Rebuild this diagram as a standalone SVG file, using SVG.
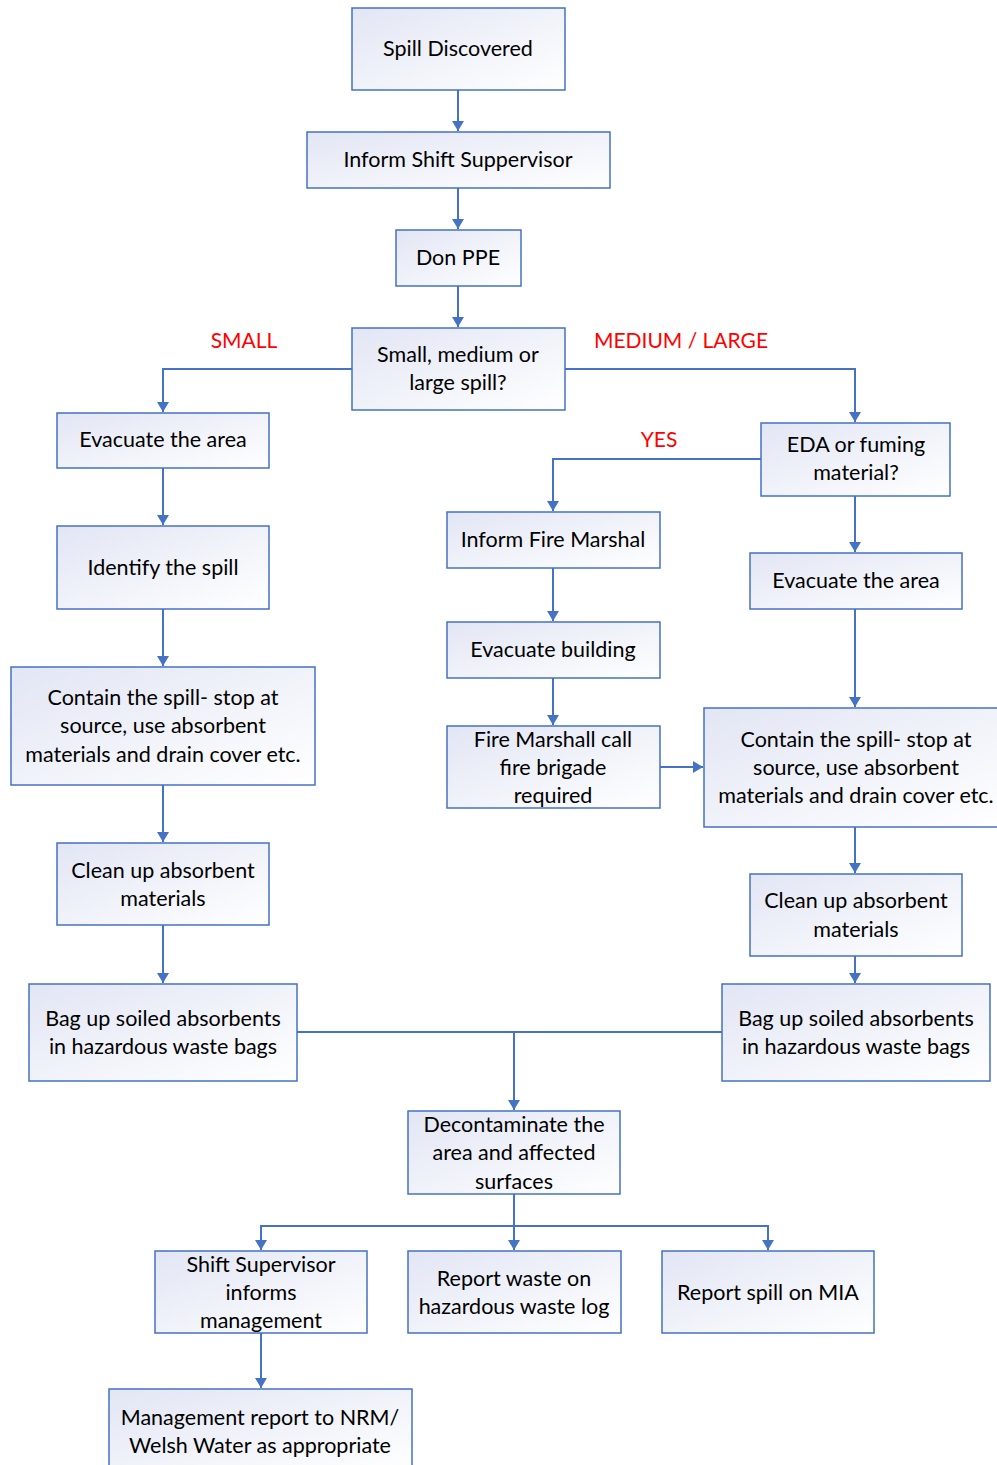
<svg xmlns="http://www.w3.org/2000/svg" width="997" height="1465" viewBox="0 0 997 1465">
<defs>
<linearGradient id="g" x1="0" y1="0" x2="1" y2="1">
<stop offset="0" stop-color="#E2E6F4"/>
<stop offset="1" stop-color="#FFFFFF"/>
</linearGradient>
<marker id="a" viewBox="0 0 10 12" refX="10" refY="6" markerWidth="10" markerHeight="12" markerUnits="userSpaceOnUse" orient="auto">
<path d="M0,0 L10,6 L0,12 z" fill="#4472C4"/>
</marker>
<style>
.b{fill:url(#g);stroke:#4472C4;stroke-width:1.5}
.t{font-family:Lato,"Open Sans","Liberation Sans",sans-serif;font-size:21.5px;fill:#000;text-anchor:middle}
.r{font-family:Lato,"Open Sans","Liberation Sans",sans-serif;font-size:21px;fill:#FF0000;text-anchor:middle}
.c{fill:none;stroke:#4472C4;stroke-width:2;marker-end:url(#a)}
.l{fill:none;stroke:#4472C4;stroke-width:2}
</style>
</defs>
<g id="connectors">
<path class="c" d="M458,90 V131"/>
<path class="c" d="M458,188 V229"/>
<path class="c" d="M458,286 V327"/>
<path class="c" d="M352,369 H163 V412"/>
<path class="c" d="M565,369 H855 V422"/>
<path class="c" d="M761,459 H553 V511"/>
<path class="c" d="M855,496 V552"/>
<path class="c" d="M553,568 V621"/>
<path class="c" d="M553,678 V725"/>
<path class="c" d="M660,767 H703"/>
<path class="c" d="M855,609 V707"/>
<path class="c" d="M855,827 V873"/>
<path class="c" d="M855,956 V983"/>
<path class="c" d="M163,468 V525"/>
<path class="c" d="M163,609 V666"/>
<path class="c" d="M163,785 V842"/>
<path class="c" d="M163,925 V983"/>
<path class="l" d="M297,1032 H722"/>
<path class="c" d="M514,1032 V1110"/>
<path class="c" d="M514,1194 V1250"/>
<path class="c" d="M514,1226 H261 V1250"/>
<path class="c" d="M514,1226 H768 V1250"/>
<path class="c" d="M261,1333 V1388"/>
</g>
<g id="labels">
<text class="r" x="244" y="348">SMALL</text>
<text class="r" x="681" y="348">MEDIUM / LARGE</text>
<text class="r" x="659" y="447">YES</text>
</g>
<g id="spill-discovered"><rect class="b" x="352" y="8" width="213" height="82"/><text class="t" x="458" y="56">Spill Discovered</text></g>
<g id="inform-supervisor"><rect class="b" x="307" y="132" width="303" height="56"/><text class="t" x="458" y="167">Inform Shift Suppervisor</text></g>
<g id="don-ppe"><rect class="b" x="396" y="230" width="125" height="56"/><text class="t" x="458" y="265">Don PPE</text></g>
<g id="spill-size"><rect class="b" x="352" y="328" width="213" height="82"/><text class="t" x="458" y="362">Small, medium or</text><text class="t" x="458" y="390">large spill?</text></g>
<g id="evacuate-left"><rect class="b" x="57" y="413" width="212" height="55"/><text class="t" x="163" y="447">Evacuate the area</text></g>
<g id="identify"><rect class="b" x="57" y="526" width="212" height="83"/><text class="t" x="163" y="575">Identify the spill</text></g>
<g id="contain-left"><rect class="b" x="11" y="667" width="304" height="118"/><text class="t" x="163" y="705">Contain the spill- stop at</text><text class="t" x="163" y="733">source, use absorbent</text><text class="t" x="163" y="762">materials and drain cover etc.</text></g>
<g id="cleanup-left"><rect class="b" x="57" y="843" width="212" height="82"/><text class="t" x="163" y="878">Clean up absorbent</text><text class="t" x="163" y="906">materials</text></g>
<g id="bag-left"><rect class="b" x="29" y="984" width="268" height="97"/><text class="t" x="163" y="1026">Bag up soiled absorbents</text><text class="t" x="163" y="1054">in hazardous waste bags</text></g>
<g id="eda"><rect class="b" x="761" y="423" width="189" height="73"/><text class="t" x="856" y="452">EDA or fuming</text><text class="t" x="856" y="480">material?</text></g>
<g id="fire-marshal"><rect class="b" x="447" y="512" width="213" height="56"/><text class="t" x="553" y="547">Inform Fire Marshal</text></g>
<g id="evacuate-building"><rect class="b" x="447" y="622" width="213" height="56"/><text class="t" x="553" y="657">Evacuate building</text></g>
<g id="fire-brigade"><rect class="b" x="447" y="726" width="213" height="82"/><text class="t" x="553" y="747">Fire Marshall call</text><text class="t" x="553" y="775">fire brigade</text><text class="t" x="553" y="803">required</text></g>
<g id="evacuate-right"><rect class="b" x="750" y="553" width="212" height="56"/><text class="t" x="856" y="588">Evacuate the area</text></g>
<g id="contain-right"><rect class="b" x="704" y="708" width="300" height="119"/><text class="t" x="856" y="747">Contain the spill- stop at</text><text class="t" x="856" y="775">source, use absorbent</text><text class="t" x="856" y="803">materials and drain cover etc.</text></g>
<g id="cleanup-right"><rect class="b" x="750" y="874" width="212" height="82"/><text class="t" x="856" y="908">Clean up absorbent</text><text class="t" x="856" y="937">materials</text></g>
<g id="bag-right"><rect class="b" x="722" y="984" width="268" height="97"/><text class="t" x="856" y="1026">Bag up soiled absorbents</text><text class="t" x="856" y="1054">in hazardous waste bags</text></g>
<g id="decontaminate"><rect class="b" x="408" y="1111" width="212" height="83"/><text class="t" x="514" y="1132">Decontaminate the</text><text class="t" x="514" y="1160">area and affected</text><text class="t" x="514" y="1189">surfaces</text></g>
<g id="supervisor-informs"><rect class="b" x="155" y="1251" width="212" height="82"/><text class="t" x="261" y="1272">Shift Supervisor</text><text class="t" x="261" y="1300">informs</text><text class="t" x="261" y="1328">management</text></g>
<g id="report-waste"><rect class="b" x="408" y="1251" width="213" height="82"/><text class="t" x="514" y="1286">Report waste on</text><text class="t" x="514" y="1314">hazardous waste log</text></g>
<g id="report-mia"><rect class="b" x="662" y="1251" width="212" height="82"/><text class="t" x="768" y="1300">Report spill on MIA</text></g>
<g id="management-report"><rect class="b" x="109" y="1389" width="303" height="82"/><text class="t" x="260" y="1425">Management report to NRM/</text><text class="t" x="260" y="1453">Welsh Water as appropriate</text></g>
</svg>
